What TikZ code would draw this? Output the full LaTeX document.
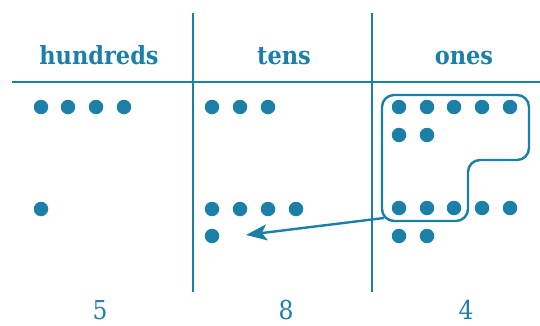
\documentclass[tikz,border=0pt]{standalone}
\usepackage{fontspec}
\setmainfont{DejaVu Serif Condensed}
\usetikzlibrary{arrows.meta}
\definecolor{teal}{RGB}{27,127,168}
\begin{document}
\begin{tikzpicture}[x=1pt,y=-1pt,
  rule/.style={draw=teal,line width=2.5pt},
  dot/.style={circle,fill=teal,inner sep=0pt,minimum size=14.5pt},
  head/.style={text=teal,font=\fontsize{25}{28}\selectfont\bfseries,anchor=base,inner sep=0pt},
  digit/.style={text=teal,font=\fontsize{26}{28}\selectfont,anchor=base,inner sep=0pt},
  group/.style={draw=teal,line width=2.4pt,rounded corners=12pt},
  carry/.style={draw=teal,line width=2.4pt,-{Stealth[length=21pt,width=16pt,inset=5pt]}}]
\useasboundingbox (0,0) rectangle (540,326);
% table rules
\draw[rule] (12,82) -- (540,82);
\draw[rule] (193,13) -- (193,292);
\draw[rule] (372,13) -- (372,292);
% column headings
\node[head] (hh) at (99,65) {hundreds};
\node[head] (ht) at (284,65) {tens};
\node[head] (ho) at (464,65) {ones};
% hundreds
\foreach \i/\x in {1/41,2/68,3/96,4/124} \node[dot] (h\i) at (\x,107) {};
\node[dot] (h5) at (41,209) {};
% tens
\foreach \i/\x in {1/212,2/240,3/268} \node[dot] (t\i) at (\x,107) {};
\foreach \i/\x in {4/212,5/240,6/268,7/296} \node[dot] (t\i) at (\x,209) {};
\node[dot] (t8) at (212,236) {};
% ones
\foreach \i/\x in {1/399,2/427,3/454,4/482,5/510} \node[dot] (o\i) at (\x,107) {};
\foreach \i/\x in {6/399,7/427} \node[dot] (o\i) at (\x,135) {};
\foreach \i/\x in {8/399,9/427,10/454,11/482,12/510} \node[dot] (o\i) at (\x,208) {};
\foreach \i/\x in {13/399,14/427} \node[dot] (o\i) at (\x,236) {};
% group of ten ones
\draw[group] (382,95) -- (529,95) -- (529,160) -- (468,160) -- (468,221) -- (382,221) -- cycle;
% regrouping arrow
\coordinate (from) at (384,218);
\coordinate (to) at (246,235);
\draw[carry] (from) -- (to);
% digits
\node[digit] (d1) at (100,319) {5};
\node[digit] (d2) at (286,319) {8};
\node[digit] (d3) at (466,319) {4};
\end{tikzpicture}
\end{document}
